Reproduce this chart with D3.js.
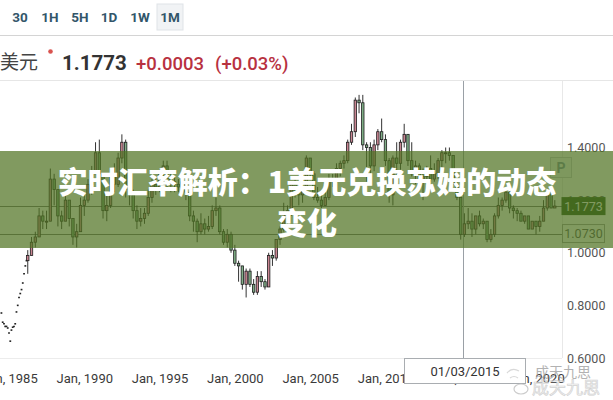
<!DOCTYPE html>
<html><head><meta charset="utf-8">
<script src="https://cdn.jsdelivr.net/npm/d3@7"></script>
<style>
html,body{margin:0;padding:0;background:#fff;}
svg{display:block;}
</style></head>
<body>
<svg id="c" width="613" height="400"></svg>
<script>
// ---------- data ----------
const periodButtons = ["30","1H","5H","1D","1W","1M"];
const activeButton = "1M";
const pairLabel = "美元";
const lastPrice = 1.1773;
const changeText = "+0.0003";
const changePct = "(+0.03%)";
const crosshairDate = "2015-03-01";
const crosshairLabel = "01/03/2015";
const priceLines = [1.1773, 1.0730];
const yTicks = [0.6, 0.8, 1.0, 1.2, 1.4];
const titleLines = ["实时汇率解析：1美元兑换苏姆的动态", "变化"];
const watermark = "成天九思";

// sparse early monthly quotes (drawn as dashes)
const earlyDates = ["1984-07","1984-08","1984-09","1984-10","1984-11","1984-12","1985-01","1985-02","1985-03","1985-04","1985-05","1985-06","1985-07","1985-08","1985-09","1985-10","1985-11","1985-12","1986-01","1986-02","1986-03"];
const earlyValues = [0.771,0.736,0.73,0.72,0.72,0.714,0.695,0.664,0.706,0.717,0.72,0.73,0.775,0.80,0.83,0.845,0.86,0.885,0.92,0.95,0.97];

// quarterly candles 1986Q2 .. 2021Q2
const candleStart = "1986-04";
const highV = [1.01,1.06,1.08,1.17,1.16,1.16,1.32,1.30,1.22,1.16,1.22,1.19,1.13,1.11,1.21,1.23,1.28,1.33,1.42,1.43,1.30,1.22,1.32,1.34,1.38,1.45,1.43,1.28,1.24,1.18,1.17,1.17,1.24,1.28,1.29,1.31,1.35,1.35,1.30,1.29,1.28,1.29,1.29,1.23,1.16,1.13,1.15,1.13,1.14,1.18,1.21,1.18,1.09,1.09,1.08,1.03,0.97,0.95,0.94,0.94,0.90,0.93,0.93,0.90,1.00,1.01,1.05,1.10,1.19,1.18,1.26,1.29,1.25,1.25,1.37,1.36,1.31,1.25,1.22,1.23,1.30,1.30,1.34,1.35,1.37,1.43,1.49,1.59,1.60,1.60,1.42,1.42,1.43,1.47,1.51,1.45,1.36,1.37,1.42,1.43,1.49,1.45,1.42,1.35,1.34,1.32,1.33,1.37,1.34,1.36,1.39,1.40,1.40,1.37,1.29,1.21,1.15,1.17,1.15,1.14,1.16,1.13,1.12,1.09,1.15,1.21,1.21,1.25,1.25,1.18,1.17,1.16,1.14,1.14,1.12,1.12,1.14,1.20,1.23,1.23,1.20];
const lowV = [0.92,0.99,1.02,1.06,1.09,1.09,1.12,1.18,1.10,1.09,1.12,1.10,1.03,1.02,1.08,1.14,1.19,1.22,1.30,1.28,1.13,1.12,1.17,1.23,1.25,1.34,1.21,1.18,1.13,1.09,1.10,1.11,1.14,1.19,1.22,1.23,1.28,1.24,1.23,1.23,1.23,1.24,1.20,1.12,1.08,1.04,1.07,1.07,1.08,1.09,1.14,1.07,1.03,1.02,1.00,0.95,0.89,0.86,0.83,0.87,0.84,0.84,0.87,0.86,0.87,0.95,0.97,1.03,1.08,1.08,1.14,1.21,1.18,1.19,1.22,1.29,1.20,1.19,1.17,1.18,1.20,1.25,1.25,1.29,1.32,1.34,1.41,1.44,1.53,1.39,1.27,1.28,1.31,1.39,1.42,1.33,1.19,1.18,1.29,1.29,1.40,1.33,1.29,1.26,1.24,1.20,1.26,1.27,1.27,1.28,1.32,1.34,1.35,1.26,1.20,1.05,1.06,1.09,1.06,1.07,1.10,1.09,1.04,1.04,1.06,1.13,1.16,1.19,1.15,1.13,1.12,1.12,1.11,1.09,1.09,1.07,1.08,1.12,1.16,1.17,1.17];
const closeV = [0.99,1.04,1.06,1.14,1.12,1.12,1.28,1.24,1.14,1.12,1.20,1.13,1.06,1.08,1.18,1.20,1.26,1.30,1.38,1.30,1.16,1.18,1.30,1.26,1.36,1.42,1.24,1.22,1.16,1.12,1.13,1.15,1.21,1.26,1.25,1.30,1.33,1.28,1.27,1.26,1.25,1.27,1.23,1.14,1.12,1.08,1.11,1.09,1.10,1.16,1.17,1.08,1.04,1.07,1.01,0.96,0.95,0.88,0.93,0.88,0.85,0.91,0.89,0.87,0.99,0.98,1.05,1.09,1.15,1.16,1.26,1.23,1.22,1.24,1.36,1.30,1.21,1.20,1.18,1.21,1.28,1.27,1.32,1.34,1.35,1.42,1.46,1.58,1.57,1.41,1.40,1.33,1.41,1.46,1.43,1.35,1.22,1.36,1.34,1.42,1.45,1.35,1.30,1.33,1.27,1.29,1.32,1.28,1.30,1.35,1.38,1.38,1.37,1.26,1.21,1.07,1.11,1.12,1.09,1.14,1.11,1.12,1.05,1.07,1.14,1.18,1.20,1.23,1.17,1.16,1.15,1.12,1.14,1.09,1.12,1.10,1.12,1.17,1.22,1.17,1.1773];

// ---------- chart ----------
const svg = d3.select("#c");
const W = 613, H = 400;
const plot = {left: 0, right: 562, top: 81, bottom: 358};
const parse = d3.timeParse("%Y-%m");

const x = d3.scaleTime()
  .domain([new Date(1985,0,1), new Date(2020,0,1)])
  .range([9, 536]);
const y = d3.scaleLinear().domain([0.6, 1.4]).range([358, 147.5]);

// header
const hdr = svg.append("g");
const btnX = [20, 50, 80, 109, 140, 170];
periodButtons.forEach((b,i)=>{
  if (b === activeButton) {
    hdr.append("rect").attr("x", btnX[i]-13).attr("y", 4).attr("width", 26).attr("height", 26)
      .attr("fill", "#f1f3f5").attr("stroke", "#dfe3e7");
  }
  hdr.append("text").attr("x", btnX[i]).attr("y", 22).attr("text-anchor","middle")
    .attr("font-family","Roboto, 'Noto Sans', sans-serif").attr("font-weight","bold")
    .attr("font-size", 13.5).attr("fill", "#32566a").text(b);
});
svg.append("line").attr("x1",0).attr("x2",W).attr("y1",35.5).attr("y2",35.5).attr("stroke","#d4d4d4");
svg.append("text").attr("x",0).attr("y",69).attr("font-family","'Noto Sans CJK SC', sans-serif")
  .attr("font-size",19).attr("fill","#444").text(pairLabel);
svg.append("circle").attr("cx",50.5).attr("cy",51.5).attr("r",2.3).attr("fill","#d9534f");
svg.append("text").attr("x",62).attr("y",70).attr("font-family","Roboto, 'Noto Sans', sans-serif")
  .attr("font-weight","bold").attr("font-size",20.5).attr("fill","#333").text(lastPrice.toFixed(4));
svg.append("text").attr("x",136).attr("y",70).attr("font-family","Roboto, 'Noto Sans', sans-serif")
  .attr("font-size",18.5).attr("font-weight",500).attr("fill","#b8313f").text(changeText);
svg.append("text").attr("x",215).attr("y",70).attr("font-family","Roboto, 'Noto Sans', sans-serif")
  .attr("font-size",18.5).attr("font-weight",500).attr("fill","#b8313f").text(changePct);
svg.append("line").attr("x1",0).attr("x2",W).attr("y1",80.5).attr("y2",80.5).attr("stroke","#e6e6e6");

// plot borders
svg.append("line").attr("x1",plot.right+0.5).attr("x2",plot.right+0.5).attr("y1",81).attr("y2",plot.bottom)
  .attr("stroke","#e8e8e8");
svg.append("line").attr("x1",0).attr("x2",plot.right).attr("y1",plot.bottom+0.5).attr("y2",plot.bottom+0.5)
  .attr("stroke","#ececec");

svg.append("clipPath").attr("id","pc").append("rect")
  .attr("x",plot.left).attr("y",plot.top).attr("width",plot.right-plot.left).attr("height",plot.bottom-plot.top);
const pg = svg.append("g").attr("clip-path","url(#pc)");

// price lines
priceLines.forEach(v=>{
  pg.append("line").attr("x1",0).attr("x2",plot.right).attr("y1",Math.round(y(v))+0.5).attr("y2",Math.round(y(v))+0.5)
    .attr("stroke","#6f6f6f").attr("stroke-width",1);
});

// crosshair
const cx = Math.round(x(d3.timeParse("%Y-%m-%d")(crosshairDate)))+0.5;
pg.append("line").attr("x1",cx).attr("x2",cx).attr("y1",plot.top).attr("y2",plot.bottom)
  .attr("stroke","#9aa0a6").attr("stroke-width",1);

// early dashes
const early = earlyDates.map((d,i)=>({d:parse(d), v:earlyValues[i]}));
pg.selectAll("line.early").data(early).enter().append("line").attr("class","early")
  .attr("x1",d=>x(d.d)-0.9).attr("x2",d=>x(d.d)+0.9)
  .attr("y1",d=>y(d.v)).attr("y2",d=>y(d.v))
  .attr("stroke","#222").attr("stroke-width",1.6);

// candles
const start = parse(candleStart);
const candles = closeV.map((c,i)=>({
  d: d3.timeMonth.offset(start, 3*i),
  o: i===0 ? earlyValues[earlyValues.length-1] : closeV[i-1],
  h: highV[i], l: lowV[i], c: c
}));
const bw = 2.4;
const cg = pg.append("g");
cg.selectAll("line.wick").data(candles).enter().append("line").attr("class","wick")
  .attr("x1",d=>x(d.d)).attr("x2",d=>x(d.d))
  .attr("y1",d=>y(d.h)).attr("y2",d=>y(d.l))
  .attr("stroke","#1c1c1c").attr("stroke-width",0.9);
cg.selectAll("rect.body").data(candles).enter().append("rect").attr("class","body")
  .attr("x",d=>x(d.d)-bw/2)
  .attr("y",d=>y(Math.max(d.o,d.c)))
  .attr("width",bw)
  .attr("height",d=>Math.max(1, Math.abs(y(d.o)-y(d.c))))
  .attr("fill",d=>d.c>=d.o ? "#c98592" : "#7fae86")
  .attr("stroke","#1c1c1c").attr("stroke-width",0.8);

// right axis
const ya = d3.axisRight(y).tickValues(yTicks).tickFormat(d3.format(".4f")).tickSize(0).tickPadding(0);
const yg = svg.append("g").attr("transform",`translate(567,0)`).call(ya);
yg.select(".domain").remove();
yg.selectAll("text").attr("font-family","Roboto, 'Noto Sans', sans-serif").attr("font-size",12.5).attr("fill","#555").attr("dx",0);

// price boxes
const pb = svg.append("g");
pb.append("rect").attr("x",561.5).attr("y",y(priceLines[0])-9).attr("width",44).attr("height",18)
  .attr("fill","#235012");
pb.append("text").attr("x",583.5).attr("y",y(priceLines[0])+4.5).attr("text-anchor","middle")
  .attr("font-family","Roboto, 'Noto Sans', sans-serif").attr("font-size",12.5).attr("fill","#fff").text(priceLines[0].toFixed(4));
pb.append("rect").attr("x",562.5).attr("y",y(priceLines[1])-9).attr("width",42).attr("height",18)
  .attr("fill","#fff").attr("stroke","#9a9a9a");
pb.append("text").attr("x",583.5).attr("y",y(priceLines[1])+4.5).attr("text-anchor","middle")
  .attr("font-family","Roboto, 'Noto Sans', sans-serif").attr("font-size",12.5).attr("fill","#555").text(priceLines[1].toFixed(4));
// "P" marker
pb.append("rect").attr("x",550.5).attr("y",157.5).attr("width",21).attr("height",20)
  .attr("fill","#f4f6f8").attr("stroke","#c8ccd0");
pb.append("text").attr("x",561).attr("y",172.5).attr("text-anchor","middle")
  .attr("font-family","Roboto, sans-serif").attr("font-weight","bold").attr("font-size",14).attr("fill","#7c90a4").text("P");

// x axis
const xa = d3.axisBottom(x).ticks(d3.timeYear.every(5)).tickFormat(d3.timeFormat("Jan, %Y")).tickSize(0).tickPadding(0);
const xg = svg.append("g").attr("transform",`translate(0,374)`).call(xa);
xg.select(".domain").remove();
xg.selectAll("text").attr("font-family","Roboto, 'Noto Sans', sans-serif").attr("font-size",13).attr("fill","#3a3a3a");

// crosshair label
svg.append("rect").attr("x",404.5).attr("y",358.5).attr("width",121).attr("height",25)
  .attr("fill","#fff").attr("stroke","#a9adb1");
svg.append("text").attr("x",465).attr("y",376).attr("text-anchor","middle")
  .attr("font-family","Roboto, 'Noto Sans', sans-serif").attr("font-size",13).attr("fill","#333").text(crosshairLabel);

// watermark
const wm = svg.append("g").attr("opacity",0.75);
wm.append("ellipse").attr("cx",521).attr("cy",389).attr("rx",7).attr("ry",5).attr("fill","none").attr("stroke","#bbb").attr("stroke-width",1.2);
wm.append("path").attr("d","M507,373 q5,-6 12,-2 M510,378 q4,-3 8,0").attr("fill","none").attr("stroke","#ccc").attr("stroke-width",1.2);
wm.append("text").attr("x",535).attr("y",377).attr("font-family","'Noto Sans CJK SC', sans-serif")
  .attr("font-size",14).attr("fill","#999").text(watermark);
wm.append("text").attr("x",532).attr("y",394).attr("font-family","'Noto Sans CJK SC', sans-serif")
  .attr("font-size",17).attr("fill","#f2f2f2").attr("stroke","#c4c4c4").attr("stroke-width",0.7).text(watermark);

// banner overlay
svg.append("rect").attr("x",0).attr("y",151).attr("width",W).attr("height",97)
  .attr("fill","rgb(80,115,35)").attr("fill-opacity",0.72);
titleLines.forEach((t,i)=>{
  svg.append("text").attr("x",307).attr("y",192.5+i*41).attr("text-anchor","middle")
    .attr("font-family","'Noto Sans CJK SC', sans-serif").attr("font-weight",900)
    .attr("font-size",30).attr("fill","#fff").text(t);
});
</script>
</body></html>
